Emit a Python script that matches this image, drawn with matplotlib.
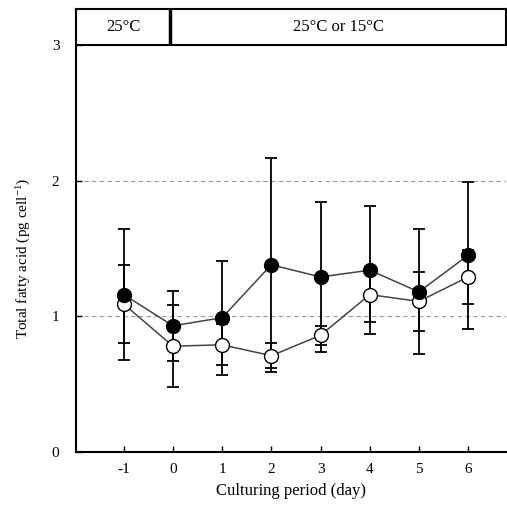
import matplotlib
matplotlib.use("Agg")
from matplotlib import pyplot as plt

plt.rcParams['font.family'] = ['Liberation Serif', 'DejaVu Serif']
plt.rcParams['axes.unicode_minus'] = False
plt.rcParams['mathtext.default'] = 'regular'

days = [-1, 0, 1, 2, 3, 4, 5, 6]
filled = [1.16, 0.93, 0.99, 1.38, 1.29, 1.34, 1.18, 1.45]
filled_err = [0.48, 0.26, 0.42, 0.79, 0.55, 0.47, 0.46, 0.54]
open_ = [1.09, 0.78, 0.79, 0.71, 0.86, 1.16, 1.11, 1.29]
open_err = [0.29, 0.30, 0.15, 0.09, 0.07, 0.20, 0.22, 0.20]
y_ticks = [0, 1, 2, 3]
header = ['25°C', '25°C or 15°C']

fig = plt.figure(figsize=(5.07, 5.14), dpi=100)
ax = fig.add_axes([0.15, 0.1206, 0.848, 0.792])

for y, e, fc in [(open_, open_err, 'white'), (filled, filled_err, 'black')]:
    ax.errorbar(days, y, yerr=e, fmt='none', ecolor='black', elinewidth=1.3,
                capsize=4, capthick=1.3, zorder=2)
    ax.plot(days, y, color='#444444', lw=1.1, marker='o', markersize=10,
            markerfacecolor=fc, markeredgecolor='black', markeredgewidth=1.0, zorder=3)

ax.set_xlim(-1.97, 6.77)
ax.set_ylim(0, 3)
ax.set_xticks(days)
ax.set_yticks(y_ticks)
for g in [1, 2]:
    ax.axhline(g, color='#999999', lw=0.8, ls=(0, (4, 3)), zorder=1)
ax.tick_params(direction='in', length=4, width=1, labelsize=11, pad=12)
ax.tick_params(axis='x', pad=8)
ax.spines['top'].set_visible(False)
ax.spines['right'].set_visible(False)
ax.spines['left'].set_linewidth(1.5)
ax.spines['bottom'].set_linewidth(1.5)
ax.set_xlabel('Culturing period (day)', fontsize=12, labelpad=5)
ax.set_ylabel('Total fatty acid (pg cell$^{-1}$)', fontsize=11)
ax.yaxis.set_label_coords(-0.10, 0.475)

# header box
hx = fig.add_axes([0.15, 0.9125, 0.848, 0.07])
hx.set_xlim(-1.97, 6.77)
hx.set_ylim(0, 1)
hx.set_xticks([])
hx.set_yticks([])
for s in hx.spines.values():
    s.set_linewidth(1.5)
hx.axvline(-0.05, color='black', lw=2.5)
hx.text((-1.97 - 0.05) / 2, 0.5, header[0], ha='center', va='center', fontsize=12)
hx.text((-0.05 + 6.77) / 2, 0.5, header[1], ha='center', va='center', fontsize=12)

fig.savefig('out.png', dpi=100)
